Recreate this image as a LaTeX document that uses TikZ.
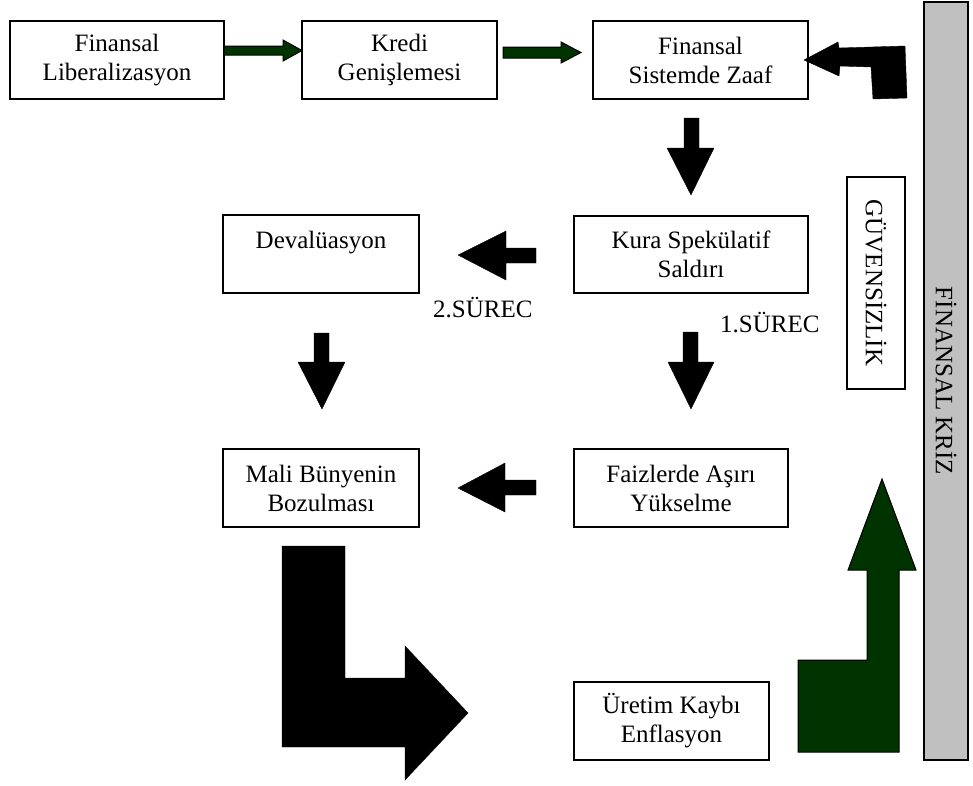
\documentclass[tikz,border=0pt]{standalone}
\usepackage{fontspec}
\setmainfont{Liberation Serif}
\definecolor{dkgreen}{RGB}{0,51,0}
\definecolor{bargray}{RGB}{192,192,192}
\begin{document}
\begin{tikzpicture}[x=1pt,y=-1pt,
  box/.style={draw, line width=1.1pt, inner sep=0pt, align=center, fill=white,
              font=\fontsize{25}{29}\selectfont},
  lbl/.style={inner sep=0pt, font=\fontsize{25}{29}\selectfont},
  blk/.style={fill=black, draw=black, line width=0.4pt, line join=miter},
  grn/.style={fill=dkgreen, draw=black, line width=1pt, line join=miter}]
\useasboundingbox (0,0) rectangle (973,785);

% boxes
\node[box, minimum width=214pt, minimum height=78pt] (b1) at (117,60) {Finansal\\Liberalizasyon};
\node[box, minimum width=195pt, minimum height=78pt] (b2) at (399.5,60) {Kredi\\Genişlemesi};
\node[box, minimum width=215pt, minimum height=78pt] (b3) at (700.5,60) {Finansal\\Sistemde Zaaf};
\node[box, minimum width=234pt, minimum height=77pt] (kura) at (691,254.5) {Kura Spekülatif\\Saldırı};
\node[box, minimum width=196pt, minimum height=78pt] (dev) at (321,254) {Devalüasyon\\\phantom{X}};
\node[box, minimum width=196pt, minimum height=78pt] (mali) at (321,488) {Mali Bünyenin\\Bozulması};
\node[box, minimum width=214pt, minimum height=78pt] (faiz) at (681,488) {Faizlerde Aşırı\\Yükselme};
\node[box, minimum width=195pt, minimum height=78pt] (uret) at (671.5,721) {Üretim Kaybı\\Enflasyon};
\node[box, rotate=-90, minimum width=212pt, minimum height=58pt] (guv) at (876,283) {GÜVENSİZLİK};
\node[box, fill=bargray, rotate=-90, minimum width=758pt, minimum height=44pt] (fk) at (946,381) {FİNANSAL KRİZ};

% labels
\node[lbl, anchor=base west] (s2) at (433,317) {2.SÜREC};
\node[lbl, anchor=base west] (s1) at (720,332) {1.SÜREC};

% green arrows (top row)
\path[grn] (224,46) -- (283,46) -- (283,40) -- (302,50.5) -- (283,61) -- (283,55) -- (224,55) -- cycle;
\path[grn] (503,47) -- (561,47) -- (561,42) -- (581,52.5) -- (561,63) -- (561,58) -- (503,58) -- cycle;

% bent arrow from crisis bar to b3
\path[blk] (804,60) -- (838,42) -- (839,48) -- (905,46) -- (907,98) -- (873,99) -- (871,67) -- (840,66) -- (839,76) -- cycle;

% down arrow b3 -> kura
\path[blk] (684,118) -- (699,118) -- (699,148) -- (714,148) -- (691,195) -- (667,148) -- (684,148) -- cycle;
% left arrow kura -> dev
\path[blk] (536,248) -- (506,248) -- (506,231) -- (458,255) -- (506,280) -- (506,263) -- (536,263) -- cycle;
% down arrow kura -> faiz
\path[blk] (683,332) -- (698,332) -- (698,362) -- (714,362) -- (691,409) -- (668,362) -- (683,362) -- cycle;
% down arrow dev -> mali
\path[blk] (314,333) -- (329,333) -- (329,362) -- (345,362) -- (322,409) -- (298,362) -- (314,362) -- cycle;
% left arrow faiz -> mali
\path[blk] (536,480) -- (505,480) -- (505,463) -- (458,488) -- (505,512) -- (505,495) -- (536,495) -- cycle;

% big bent arrow mali -> uretim
\path[blk] (282,546) -- (345,546) -- (345,678) -- (405,678) -- (405,646) -- (468,713) -- (405,780) -- (405,747) -- (282,747) -- cycle;

% green up arrow uretim -> guvensizlik
\path[grn] (798,660) -- (867,660) -- (867,570) -- (848,570) -- (882,479) -- (916,570) -- (899,570) -- (899,752) -- (798,752) -- cycle;
\end{tikzpicture}
\end{document}
